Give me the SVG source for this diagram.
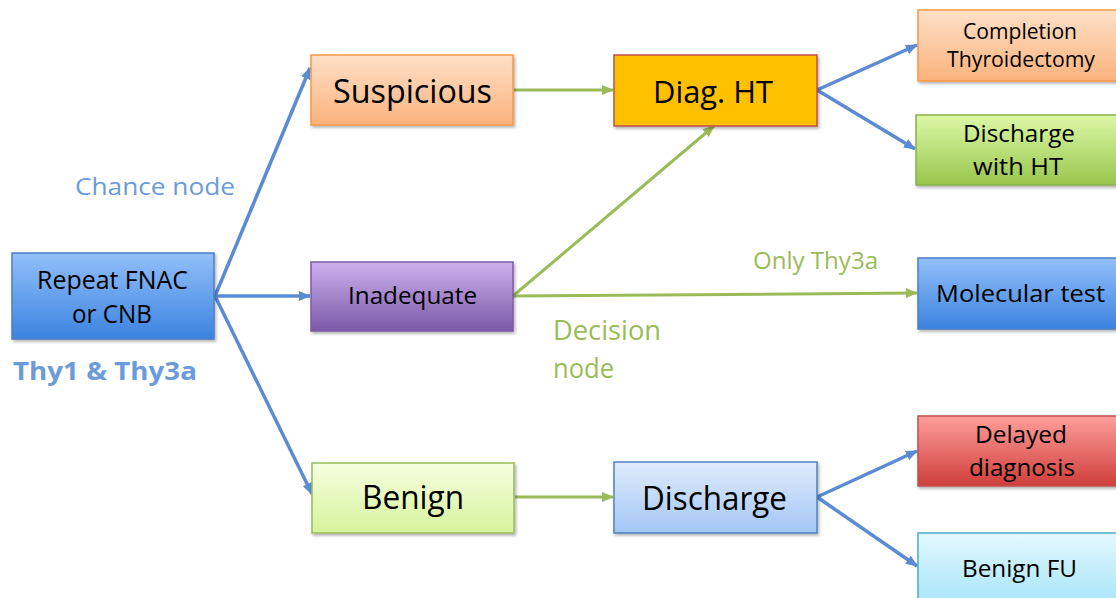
<svg xmlns="http://www.w3.org/2000/svg" width="1116" height="598" viewBox="0 0 1116 598">
<defs>
<linearGradient id="gBlue" x1="0" y1="0" x2="0" y2="1"><stop offset="0" stop-color="#92bff9"/><stop offset="1" stop-color="#3c83e0"/></linearGradient>
<linearGradient id="gPeach" x1="0" y1="0" x2="0" y2="1"><stop offset="0" stop-color="#fee0c8"/><stop offset="1" stop-color="#fab27c"/></linearGradient>
<linearGradient id="gPurple" x1="0" y1="0" x2="0" y2="1"><stop offset="0" stop-color="#cdb2ee"/><stop offset="1" stop-color="#7b58a8"/></linearGradient>
<linearGradient id="gLime" x1="0" y1="0" x2="0" y2="1"><stop offset="0" stop-color="#f6ffe0"/><stop offset="1" stop-color="#d6f39c"/></linearGradient>
<linearGradient id="gGreen" x1="0" y1="0" x2="0" y2="1"><stop offset="0" stop-color="#dcf8a8"/><stop offset="1" stop-color="#98c64c"/></linearGradient>
<linearGradient id="gLightBlue" x1="0" y1="0" x2="0" y2="1"><stop offset="0" stop-color="#e0ecfc"/><stop offset="1" stop-color="#a2c6f6"/></linearGradient>
<linearGradient id="gRed" x1="0" y1="0" x2="0" y2="1"><stop offset="0" stop-color="#fe9e9b"/><stop offset="1" stop-color="#cf3e3a"/></linearGradient>
<linearGradient id="gCyan" x1="0" y1="0" x2="0" y2="1"><stop offset="0" stop-color="#e4f8fe"/><stop offset="1" stop-color="#a3e4f8"/></linearGradient>
<filter id="sh" x="-10%" y="-10%" width="125%" height="135%"><feDropShadow dx="1.5" dy="2" stdDeviation="1.5" flood-color="#000" flood-opacity="0.3"/></filter>
<marker id="aBlue" markerWidth="12" markerHeight="10" refX="11" refY="5" orient="auto" markerUnits="userSpaceOnUse"><path d="M0,0 L12,5 L0,10 Z" fill="#5a8bd3"/></marker>
<marker id="aGreen" markerWidth="12" markerHeight="10" refX="11" refY="5" orient="auto" markerUnits="userSpaceOnUse"><path d="M0,0 L12,5 L0,10 Z" fill="#9bbb59"/></marker>
</defs>
<style>
.box{filter:url(#sh);stroke-width:1.5}
.t{font-family:"Open Sans",Lato,sans-serif;fill:#000}
.cb{stroke:#5a8bd3;stroke-width:3.5;fill:none;marker-end:url(#aBlue)}
.cg{stroke:#9bbb59;stroke-width:3;fill:none;marker-end:url(#aGreen)}
.lb{font-family:"Open Sans",Lato,sans-serif;fill:#6b9bd8}
.lg{font-family:"Open Sans",Lato,sans-serif;fill:#9bbb59}
</style>
<g id="connectors">
<line class="cb" x1="215" y1="296" x2="310" y2="68"/>
<line class="cb" x1="215" y1="296" x2="310" y2="296"/>
<line class="cb" x1="215" y1="296" x2="312" y2="494"/>
<line class="cb" x1="817" y1="90" x2="917" y2="45"/>
<line class="cb" x1="817" y1="90" x2="915" y2="149"/>
<line class="cb" x1="817" y1="497" x2="917" y2="451"/>
<line class="cb" x1="817" y1="497" x2="917" y2="566"/>
<line class="cg" x1="514" y1="90" x2="613" y2="90"/>
<line class="cg" x1="513" y1="296" x2="714" y2="126"/>
<line class="cg" x1="513" y1="296" x2="917" y2="293"/>
<line class="cg" x1="515" y1="497" x2="613" y2="497"/>
</g>
<g id="labels">
<text class="lb" x="75" y="195" font-size="24" textLength="160" lengthAdjust="spacingAndGlyphs">Chance node</text>
<text class="lb" x="13" y="380" font-size="25" font-weight="bold" fill="#5b8fd6" textLength="184" lengthAdjust="spacingAndGlyphs">Thy1 &amp; Thy3a</text>
<text class="lg" x="753" y="269" font-size="23" textLength="125" lengthAdjust="spacingAndGlyphs">Only Thy3a</text>
<text class="lg" x="553" y="340" font-size="27" textLength="108" lengthAdjust="spacingAndGlyphs">Decision</text>
<text class="lg" x="553" y="378" font-size="27" textLength="61" lengthAdjust="spacingAndGlyphs">node</text>
</g>
<g id="n-repeat"><rect class="box" x="12" y="253" width="202" height="86" fill="url(#gBlue)" stroke="#4a7fc8"/><text class="t" x="37" y="289" font-size="25" textLength="151" lengthAdjust="spacingAndGlyphs">Repeat FNAC</text><text class="t" x="72" y="323" font-size="25" textLength="80" lengthAdjust="spacingAndGlyphs">or CNB</text></g>
<g id="n-suspicious"><rect class="box" x="311" y="55" width="202" height="70" fill="url(#gPeach)" stroke="#f79646"/><text class="t" x="333" y="103" font-size="33" textLength="159" lengthAdjust="spacingAndGlyphs">Suspicious</text></g>
<g id="n-inadequate"><rect class="box" x="311" y="262" width="202" height="69" fill="url(#gPurple)" stroke="#7c5ba6"/><text class="t" x="348" y="304" font-size="23" textLength="129" lengthAdjust="spacingAndGlyphs">Inadequate</text></g>
<g id="n-benign"><rect class="box" x="312" y="463" width="202" height="70" fill="url(#gLime)" stroke="#9bbb59"/><text class="t" x="362" y="509" font-size="32" textLength="102" lengthAdjust="spacingAndGlyphs">Benign</text></g>
<g id="n-diag"><rect class="box" x="614" y="55" width="203" height="71" fill="#ffc000" stroke="#c0504d"/><text class="t" x="653" y="103" font-size="31" textLength="120" lengthAdjust="spacingAndGlyphs">Diag. HT</text></g>
<g id="n-discharge"><rect class="box" x="614" y="462" width="203" height="71" fill="url(#gLightBlue)" stroke="#4f81bd"/><text class="t" x="642" y="510" font-size="32" textLength="145" lengthAdjust="spacingAndGlyphs">Discharge</text></g>
<g id="n-completion"><rect class="box" x="918" y="10" width="205" height="71" fill="url(#gPeach)" stroke="#f79646"/><text class="t" x="963" y="39" font-size="21" textLength="114" lengthAdjust="spacingAndGlyphs">Completion</text><text class="t" x="947" y="67" font-size="21" textLength="148" lengthAdjust="spacingAndGlyphs">Thyroidectomy</text></g>
<g id="n-dischargeht"><rect class="box" x="916" y="115" width="207" height="70" fill="url(#gGreen)" stroke="#8ab04c"/><text class="t" x="963" y="142" font-size="24" textLength="112" lengthAdjust="spacingAndGlyphs">Discharge</text><text class="t" x="973" y="175" font-size="24" textLength="90" lengthAdjust="spacingAndGlyphs">with HT</text></g>
<g id="n-molecular"><rect class="box" x="918" y="258" width="205" height="71" fill="url(#gBlue)" stroke="#4a7fc8"/><text class="t" x="936" y="302" font-size="24" textLength="169" lengthAdjust="spacingAndGlyphs">Molecular test</text></g>
<g id="n-delayed"><rect class="box" x="918" y="416" width="205" height="70" fill="url(#gRed)" stroke="#c0504d"/><text class="t" x="975" y="443" font-size="24" textLength="92" lengthAdjust="spacingAndGlyphs">Delayed</text><text class="t" x="969" y="476" font-size="24" textLength="106" lengthAdjust="spacingAndGlyphs">diagnosis</text></g>
<g id="n-benignfu"><rect class="box" x="918" y="533" width="205" height="75" fill="url(#gCyan)" stroke="#4bacc6"/><text class="t" x="962" y="577" font-size="24" textLength="115" lengthAdjust="spacingAndGlyphs">Benign FU</text></g>
</svg>
